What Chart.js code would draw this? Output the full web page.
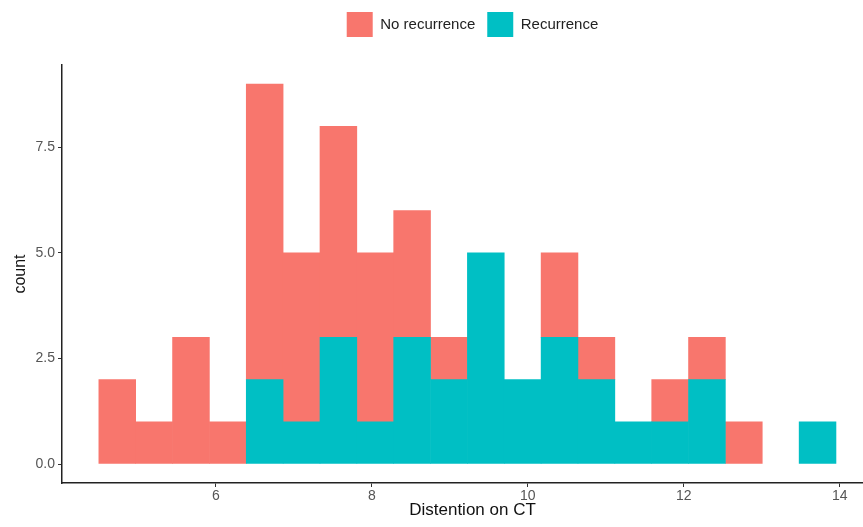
<!DOCTYPE html>
<html>
<head>
<meta charset="utf-8">
<script src="https://cdn.jsdelivr.net/npm/chart.js@4.4.1/dist/chart.umd.min.js"></script>
<style>
  html, body { margin: 0; padding: 0; background: #fff; overflow: hidden; }
  #wrap { width: 883px; height: 527px; }
</style>
</head>
<body>
<div id="wrap"><canvas id="myChart"></canvas></div>
<script>
// histogram bins (centres on the Distention on CT axis)
var binCenters = [4.736, 5.209, 5.681, 6.154, 6.626, 7.099, 7.571, 8.044, 8.516, 8.989,
                  9.461, 9.934, 10.406, 10.879, 11.351, 11.824, 12.296, 12.769, 13.241, 13.714];
var noRecurrence = [2, 1, 3, 1, 7, 4, 5, 4, 3, 1, 0, 0, 2, 1, 0, 1, 1, 1, 0, 0];
var recurrence   = [0, 0, 0, 0, 2, 1, 3, 1, 3, 2, 5, 2, 3, 2, 1, 1, 2, 0, 0, 1];
var xTicks = [6, 8, 10, 12, 14];
var yTicks = [0, 2.5, 5, 7.5];

// empty bins -> null so no hairline is drawn for them
function toPoints(counts) {
    return binCenters.map(function (x, i) { return { x: x, y: counts[i] || null }; });
}

Chart.defaults.font.family = "'Liberation Sans', Arial, sans-serif";

// make room above the plot like ggplot does
var legendMargin = {
    id: 'legendMargin',
    beforeInit: function (chart) {
        var fit = chart.legend.fit;
        chart.legend.fit = function () {
            fit.bind(chart.legend)();
            this.height = 65;
        };
    }
};

var ctx = document.getElementById('myChart');
var myChart = new Chart(ctx, {
    type: 'bar',
    data: {
        datasets: [{
            label: 'Recurrence',
            data: toPoints(recurrence),
            backgroundColor: '#00BFC4',
            borderWidth: 0,
            barPercentage: 1,
            categoryPercentage: 1
        }, {
            label: 'No recurrence',
            data: toPoints(noRecurrence),
            backgroundColor: '#F8766D',
            borderWidth: 0,
            barPercentage: 1,
            categoryPercentage: 1
        }]
    },
    plugins: [legendMargin],
    options: {
        responsive: true,
        maintainAspectRatio: false,
        animation: false,
        skipNull: true,
        layout: { padding: 0 },
        plugins: {
            tooltip: { enabled: false },
            legend: {
                position: 'top',
                fullSize: false,
                reverse: true,
                labels: {
                    boxWidth: 26,
                    boxHeight: 25,
                    padding: 12,
                    color: '#222',
                    font: { size: 15 }
                }
            }
        },
        scales: {
            x: {
                type: 'linear',
                stacked: true,
                offset: false,
                min: 4.0275,
                max: 14.553,
                afterBuildTicks: function (scale) {
                    scale.ticks = xTicks.map(function (v) { return { value: v }; });
                },
                afterFit: function (scale) { scale.height = 44; },
                grid: {
                    offset: false,
                    drawOnChartArea: false,
                    drawTicks: true,
                    tickLength: 4,
                    color: '#333'
                },
                border: { display: true, color: '#222', width: 1.5 },
                ticks: { color: '#555', font: { size: 14 }, padding: 1 },
                title: {
                    display: true,
                    text: 'Distention on CT',
                    color: '#111',
                    font: { size: 17 },
                    padding: { top: 0, bottom: 6 }
                }
            },
            y: {
                stacked: true,
                min: -0.45,
                max: 9.45,
                afterBuildTicks: function (scale) {
                    scale.ticks = yTicks.map(function (v) { return { value: v }; });
                },
                afterFit: function (scale) { scale.width = 62; },
                grid: {
                    drawOnChartArea: false,
                    drawTicks: true,
                    tickLength: 4,
                    color: '#333'
                },
                border: { display: true, color: '#222', width: 1.5 },
                ticks: {
                    color: '#555',
                    font: { size: 14 },
                    padding: 3,
                    callback: function (v) { return Number(v).toFixed(1); }
                },
                title: {
                    display: true,
                    text: 'count',
                    color: '#111',
                    font: { size: 16 },
                    padding: { top: 11, bottom: 0 }
                }
            }
        }
    }
});
</script>
</body>
</html>
